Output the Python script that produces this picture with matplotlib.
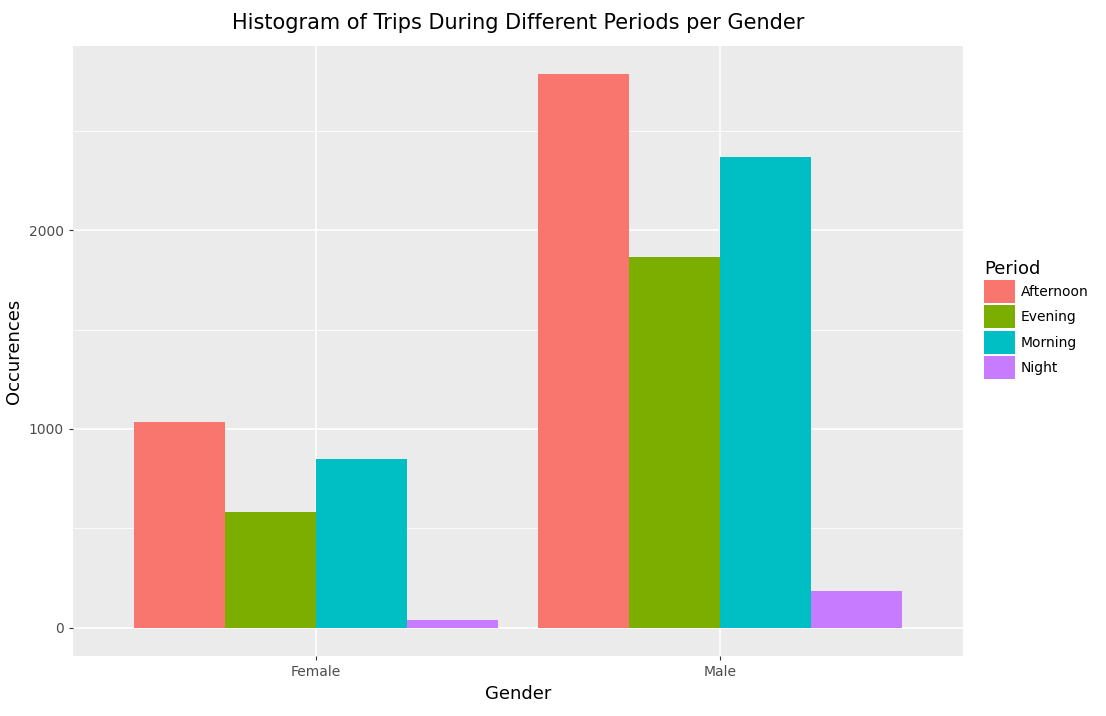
import numpy as np
import matplotlib.pyplot as plt

genders = ['Female', 'Male']
periods = ['Afternoon', 'Evening', 'Morning', 'Night']
afternoon = [1035, 2784]
evening = [583, 1864]
morning = [849, 2367]
night = [40, 186]
colors = ['#F8766D', '#7CAE00', '#00BFC4', '#C77CFF']

fig = plt.figure(figsize=(11.06, 7.16), dpi=100)
ax = fig.add_axes([73 / 1106, 1 - 656 / 716, 890 / 1106, 610 / 716])
ax.set_facecolor('#EBEBEB')

x = np.arange(len(genders))
w = 0.225
for i, (vals, name) in enumerate(zip([afternoon, evening, morning, night], periods)):
    ax.bar(x - 0.45 + w * (i + 0.5), vals, width=w, color=colors[i], label=name, zorder=3)

ax.set_xlim(-0.6, 1.6)
ax.set_ylim(-141, 2925)
ax.set_yticks([0, 1000, 2000])
ax.set_yticks([500, 1500, 2500], minor=True)
ax.set_xticks(x)
ax.set_xticklabels(genders)
ax.grid(which='major', color='white', linewidth=1.2, zorder=0)
ax.grid(which='minor', axis='y', color='white', linewidth=0.6, zorder=0)
for s in ax.spines.values():
    s.set_visible(False)
ax.tick_params(which='both', length=3, color='#333333', labelcolor='#4D4D4D', labelsize=10)
ax.tick_params(which='minor', length=0)

ax.set_xlabel('Gender', fontsize=13)
ax.set_ylabel('Occurences', fontsize=13)
ax.set_title('Histogram of Trips During Different Periods per Gender', fontsize=15, pad=12)

leg = ax.legend(title='Period', loc='upper left', bbox_to_anchor=(1.01, 0.67),
                frameon=False, fontsize=10, title_fontsize=13,
                handlelength=2.2, handleheight=2.2, handletextpad=0.4, labelspacing=0.15)
leg._legend_box.align = 'left'

fig.savefig('out.png', dpi=100)
